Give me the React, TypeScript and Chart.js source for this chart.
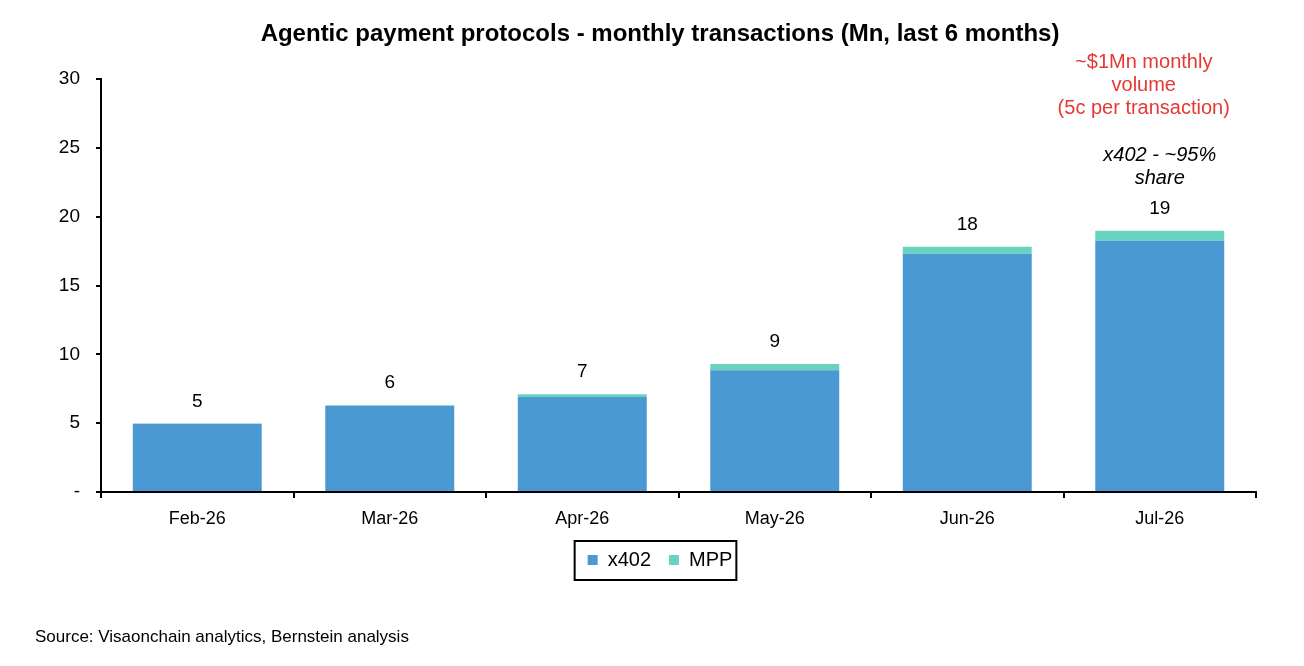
import { useEffect, useRef } from "react";
import { Chart, registerables } from "chart.js";

Chart.register(...registerables);

const months = ["Feb-26", "Mar-26", "Apr-26", "May-26", "Jun-26", "Jul-26"];
const x402 = [4.95, 6.25, 6.9, 8.85, 17.3, 18.25];
const mpp = [0.02, 0.06, 0.2, 0.45, 0.52, 0.73];
const totalLabels = ["5", "6", "7", "9", "18", "19"];
const yTicks = [0, 5, 10, 15, 20, 25, 30];

const FONT = "'Liberation Sans', Arial, sans-serif";
const BLUE = "#4a99d3";
const TEAL = "#68d4bf";
const CENTER_X = 660;

const extras = {
  id: "extras",
  afterLayout(chart: any) {
    // centre the legend under the title rather than the plot
    const lg = chart.legend;
    if (!lg) return;
    const shift = CENTER_X - (lg.left + lg.right) / 2;
    lg.left += shift;
    lg.right += shift;
    (lg.legendHitBoxes || []).forEach((b: any) => (b.left += shift));
  },
  afterDatasetsDraw(chart: any) {
    const { ctx } = chart;
    const top = chart.getDatasetMeta(1);
    ctx.save();
    ctx.textAlign = "center";
    ctx.textBaseline = "middle";

    ctx.fillStyle = "#000";
    ctx.font = `bold 24px ${FONT}`;
    ctx.fillText("Agentic payment protocols - monthly transactions (Mn, last 6 months)", CENTER_X, 34);

    ctx.font = `19px ${FONT}`;
    totalLabels.forEach((t, i) => {
      const bar = top.data[i];
      ctx.fillText(t, bar.x, bar.y - 22);
    });

    // notes over the last bar
    const last = top.data[top.data.length - 1];
    ctx.fillStyle = "#e53935";
    ctx.font = `20px ${FONT}`;
    ["~$1Mn monthly", "volume", "(5c per transaction)"].forEach((s, k) => {
      ctx.fillText(s, last.x - 16, 62 + k * 23);
    });
    ctx.fillStyle = "#000";
    ctx.font = `italic 20px ${FONT}`;
    ["x402 - ~95%", "share"].forEach((s, k) => {
      ctx.fillText(s, last.x, 155 + k * 23);
    });

    // source
    ctx.textAlign = "left";
    ctx.font = `17px ${FONT}`;
    ctx.fillText("Source: Visaonchain analytics, Bernstein analysis", 35, 637);
    ctx.restore();
  },
  afterDraw(chart: any) {
    const lg = chart.legend;
    if (!lg || !lg.legendHitBoxes?.length) return;
    const boxes = lg.legendHitBoxes;
    const minX = Math.min(...boxes.map((b: any) => b.left));
    const maxX = Math.max(...boxes.map((b: any) => b.left + b.width));
    const minY = Math.min(...boxes.map((b: any) => b.top));
    const maxY = Math.max(...boxes.map((b: any) => b.top + b.height));
    const { ctx } = chart;
    ctx.save();
    ctx.strokeStyle = "#000";
    ctx.lineWidth = 2;
    ctx.strokeRect(minX - 13, minY - 9, maxX - minX + 17, maxY - minY + 19);
    ctx.restore();
  },
};

export default function App() {
  const ref = useRef<HTMLCanvasElement>(null);
  useEffect(() => {
    const chart = new Chart(ref.current!, {
      type: "bar",
      data: {
        labels: months,
        datasets: [
          { label: "x402", data: x402, backgroundColor: BLUE, stack: "s", barPercentage: 0.67, categoryPercentage: 1 },
          { label: "MPP", data: mpp, backgroundColor: TEAL, stack: "s", barPercentage: 0.67, categoryPercentage: 1 },
        ],
      },
      options: {
        animation: false,
        responsive: true,
        maintainAspectRatio: false,
        layout: { padding: { left: 0, right: 48, top: 79, bottom: 86 } },
        scales: {
          x: {
            stacked: true,
            offset: true,
            border: { display: true, color: "#000", width: 2 },
            grid: { display: true, offset: true, drawOnChartArea: false, color: "#000", lineWidth: 2, tickLength: 6 },
            ticks: { color: "#000", font: { family: FONT, size: 18 }, padding: 10 },
            afterFit(scale: any) {
              scale.height = 40;
            },
          },
          y: {
            stacked: true,
            min: 0,
            max: 30,
            afterBuildTicks(scale: any) {
              scale.ticks = yTicks.map((v) => ({ value: v }));
            },
            border: { display: true, color: "#000", width: 2 },
            grid: { display: true, drawOnChartArea: false, color: "#000", lineWidth: 2, tickLength: 5 },
            ticks: {
              color: "#000",
              font: { family: FONT, size: 19 },
              padding: 16,
              callback: (v: any) => (Number(v) === 0 ? "-" : String(v)),
            },
            afterFit(scale: any) {
              scale.width = 101;
            },
          },
        },
        plugins: {
          title: { display: false },
          legend: {
            position: "bottom",
            labels: {
              color: "#000",
              font: { family: FONT, size: 20 },
              boxWidth: 10,
              boxHeight: 10,
              padding: 18,
            },
          },
          tooltip: { enabled: false },
        },
      },
      plugins: [extras],
    });
    return () => chart.destroy();
  }, []);
  return (
    <div style={{ position: "fixed", left: 0, top: 0, width: 1304, height: 666, background: "#fff" }}>
      <canvas ref={ref} />
    </div>
  );
}
